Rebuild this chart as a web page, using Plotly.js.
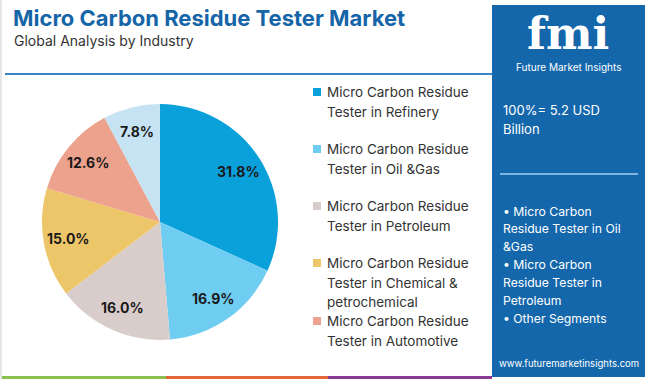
<!DOCTYPE html>
<html>
<head>
<meta charset="utf-8">
<script src="https://cdn.plot.ly/plotly-3.0.1.min.js"></script>
<style>html,body{margin:0;padding:0;background:#fff;}#chart{width:650px;height:379px;}</style>
</head>
<body>
<div id="chart"></div>
<script>
const categories = [
  "Micro Carbon Residue Tester in Refinery",
  "Micro Carbon Residue Tester in Oil &Gas",
  "Micro Carbon Residue Tester in Petroleum",
  "Micro Carbon Residue Tester in Chemical & petrochemical",
  "Micro Carbon Residue Tester in Automotive",
  "Other Segments"
];
const shares = [31.8, 16.9, 16.0, 15.0, 12.6, 7.8];
const sliceColors = ["#0aa0da", "#6fcdf2", "#d9cdcc", "#eec66a", "#eca28c", "#c6e3f4"];
const legendLines = [
  ["Micro Carbon Residue", "Tester in Refinery"],
  ["Micro Carbon Residue", "Tester in Oil &Gas"],
  ["Micro Carbon Residue", "Tester in Petroleum"],
  ["Micro Carbon Residue", "Tester in Chemical &", "petrochemical"],
  ["Micro Carbon Residue", "Tester in Automotive"]
];
const legendTop = [92, 149, 206, 263, 321];
const panelLines = ["• Micro Carbon", "Residue Tester in Oil", "&Gas", "• Micro Carbon", "Residue Tester in", "Petroleum", "• Other Segments"];

const W = 650, H = 379;
const px = x => x / W;
const py = y => 1 - y / H;
const FONT = "Inter, 'Open Sans', sans-serif";

const shapes = [];
const annotations = [];

// left border
shapes.push({type:'rect', xref:'paper', yref:'paper', x0:0, x1:px(2), y0:0, y1:1, fillcolor:'#e6e6e6', line:{width:0}});
// title underline
shapes.push({type:'line', xref:'paper', yref:'paper', x0:px(5), x1:px(492), y0:py(74), y1:py(74), line:{color:'#3b86c2', width:2}});
// bottom strip
shapes.push({type:'rect', xref:'paper', yref:'paper', x0:px(2), x1:px(166), y0:py(379), y1:py(376), fillcolor:'#8cc14f', line:{width:0}});
shapes.push({type:'rect', xref:'paper', yref:'paper', x0:px(166), x1:px(328), y0:py(379), y1:py(376), fillcolor:'#e4663a', line:{width:0}});
shapes.push({type:'rect', xref:'paper', yref:'paper', x0:px(328), x1:px(492), y0:py(379), y1:py(376), fillcolor:'#8a3a93', line:{width:0}});
// right panel
shapes.push({type:'rect', xref:'paper', yref:'paper', x0:px(492), x1:px(645), y0:py(377), y1:py(5), fillcolor:'#1467ab', line:{width:0}});
// panel divider
shapes.push({type:'line', xref:'paper', yref:'paper', x0:px(500), x1:px(638), y0:py(174), y1:py(174), line:{color:'#7fb6e0', width:2}});

// title texts
annotations.push({xref:'paper', yref:'paper', x:px(11), y:py(18), xanchor:'left', yanchor:'middle', showarrow:false,
  text:'<b>Micro Carbon Residue Tester Market</b>', font:{family:FONT, size:22, color:'#1565a8'}});
annotations.push({xref:'paper', yref:'paper', x:px(12), y:py(41), xanchor:'left', yanchor:'middle', showarrow:false,
  text:'Global Analysis by Industry', font:{family:FONT, size:14, color:'#333333'}});

// manual legend
legendLines.forEach((lines, i) => {
  const top = legendTop[i];
  shapes.push({type:'rect', xref:'paper', yref:'paper', x0:px(313), x1:px(321), y0:py(top+4), y1:py(top-4), fillcolor:sliceColors[i], line:{width:0}});
  lines.forEach((t, j) => {
    annotations.push({xref:'paper', yref:'paper', x:px(325), y:py(top + j*19.5), xanchor:'left', yanchor:'middle', showarrow:false,
      text:t.replace('&','&amp;'), font:{family:FONT, size:13.5, color:'#333333'}});
  });
});

// panel text
annotations.push({xref:'paper', yref:'paper', x:px(501), y:py(110), xanchor:'left', yanchor:'middle', showarrow:false,
  text:'100%= 5.2 USD', font:{family:FONT, size:13, color:'#ffffff'}});
annotations.push({xref:'paper', yref:'paper', x:px(501), y:py(129), xanchor:'left', yanchor:'middle', showarrow:false,
  text:'Billion', font:{family:FONT, size:13, color:'#ffffff'}});
panelLines.forEach((t, j) => {
  annotations.push({xref:'paper', yref:'paper', x:px(501), y:py(211 + j*17.9), xanchor:'left', yanchor:'middle', showarrow:false,
    text:t.replace('&','&amp;'), font:{family:FONT, size:12.2, color:'#ffffff'}});
});
annotations.push({xref:'paper', yref:'paper', x:px(569), y:py(363), xanchor:'center', yanchor:'middle', showarrow:false,
  text:'www.futuremarketinsights.com', font:{family:FONT, size:9.5, color:'#ffffff'}});

// logo
annotations.push({xref:'paper', yref:'paper', x:px(568), y:py(33), xanchor:'center', yanchor:'middle', showarrow:false,
  text:'<b>fmi</b>', font:{family:"'DejaVu Serif', serif", size:44, color:'#ffffff'}});
for (let y = 16; y <= 56; y += 4) {
  shapes.push({type:'line', xref:'paper', yref:'paper', x0:px(510), x1:px(630), y0:py(y), y1:py(y), line:{color:'#1467ab', width:1}});
}
annotations.push({xref:'paper', yref:'paper', x:px(568), y:py(67), xanchor:'center', yanchor:'middle', showarrow:false,
  text:'Future Market Insights', font:{family:FONT, size:10, color:'#ffffff'}});

// pie geometry (domain in pixels)
const pieLeft = 42, pieRight = 278, pieTop = 104, pieBottom = 340;
const cx = (pieLeft + pieRight) / 2, cy = (pieTop + pieBottom) / 2, R = (pieRight - pieLeft) / 2;

// percentage labels placed at each slice's mid-angle (computed from the data)
const total = shares.reduce((a, b) => a + b, 0);
let cum = 0;
shares.forEach(v => {
  const mid = (cum + v / 2) / total * 2 * Math.PI;
  cum += v;
  const d = 0.79 * R;
  annotations.push({xref:'paper', yref:'paper', x:px(cx + d * Math.sin(mid)), y:py(cy - d * Math.cos(mid)),
    xanchor:'center', yanchor:'middle', showarrow:false,
    text:'<b>' + v.toFixed(1) + '%</b>', font:{family:FONT, size:14, color:'#1a1a1a'}});
});

const trace = {
  type:'pie',
  labels: categories,
  values: shares,
  sort:false,
  direction:'clockwise',
  rotation:0,
  marker:{colors:sliceColors, line:{width:0}},
  textinfo:'none',
  hoverinfo:'label+value',
  domain:{x:[px(pieLeft), px(pieRight)], y:[py(pieBottom), py(pieTop)]},
  showlegend:false
};

Plotly.newPlot('chart', [trace], {
  width:W, height:H,
  margin:{l:0, r:0, t:0, b:0},
  paper_bgcolor:'#ffffff',
  showlegend:false,
  shapes, annotations
}, {displayModeBar:false, staticPlot:true});
</script>
</body>
</html>
